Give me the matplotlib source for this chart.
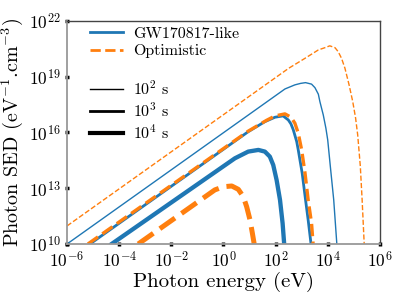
import numpy as np
import matplotlib
matplotlib.use("Agg")
import matplotlib.pyplot as plt
from matplotlib.lines import Line2D

plt.rcParams['font.family'] = 'serif'
plt.rcParams['font.serif'] = ['cmr10']
plt.rcParams['mathtext.fontset'] = 'cm'
plt.rcParams['axes.unicode_minus'] = False
plt.rcParams['axes.formatter.use_mathtext'] = True

# log10(E / eV) and log10(SED)
gw_1e2_logE = [-6.0, 2.36, 2.74, 2.96, 3.15, 3.38, 3.51, 3.64, 3.70, 3.83, 3.93, 4.00, 4.10, 4.23, 4.35]
gw_1e2_logY = [10.0, 18.34, 18.56, 18.64, 18.68, 18.60, 18.41, 18.06, 17.66, 16.94, 16.23, 15.60, 14.18, 12.38, 10.0]
gw_1e3_logE = [-5.12, 0.95, 1.59, 1.98, 2.29, 2.49, 2.59, 2.68, 2.81, 2.87, 3.02, 3.15, 3.25, 3.36]
gw_1e3_logY = [10.0, 16.04, 16.58, 16.82, 16.89, 16.67, 16.46, 16.14, 15.51, 15.06, 13.81, 12.37, 11.29, 10.0]
gw_1e4_logE = [-4.29, 0.44, 0.95, 1.34, 1.59, 1.78, 1.91, 2.04, 2.17, 2.27, 2.33]
gw_1e4_logY = [10.0, 14.61, 14.97, 15.06, 14.97, 14.70, 14.25, 13.44, 12.37, 11.11, 10.0]

opt_1e2_logE = [-6.0, 2.5, 3.13, 3.64, 3.89, 4.08, 4.28, 4.40, 4.53, 4.66, 4.82, 4.96, 5.07, 5.15, 5.25, 5.32, 5.40]
opt_1e2_logY = [10.97, 19.45, 19.99, 20.44, 20.56, 20.66, 20.56, 20.35, 19.99, 19.46, 18.56, 17.66, 16.77, 15.87, 14.20, 12.38, 10.0]
opt_1e3_logE = [-5.2, 0.95, 1.65, 1.98, 2.36, 2.59, 2.74, 2.87, 3.00, 3.13, 3.25, 3.38, 3.44]
opt_1e3_logY = [10.0, 16.07, 16.65, 16.89, 17.0, 16.82, 16.50, 15.96, 15.06, 13.81, 12.37, 11.11, 10.0]
opt_1e4_logE = [-3.27, -0.33, 0.0, 0.32, 0.57, 0.76, 0.89, 1.02, 1.11, 1.18]
opt_1e4_logY = [10.0, 12.91, 13.08, 13.12, 12.94, 12.55, 12.01, 11.29, 10.58, 10.0]

times = ['$10^2$ s', '$10^3$ s', '$10^4$ s']
blue = '#1f77b4'
orange = '#ff7f0e'

fig = plt.figure(figsize=(3.99, 2.99), dpi=100)
ax = fig.add_axes([0.168, 0.184, 0.784, 0.746])

gw = [(gw_1e2_logE, gw_1e2_logY), (gw_1e3_logE, gw_1e3_logY), (gw_1e4_logE, gw_1e4_logY)]
opt = [(opt_1e2_logE, opt_1e2_logY), (opt_1e3_logE, opt_1e3_logY), (opt_1e4_logE, opt_1e4_logY)]
lw_gw = [1.0, 2.0, 3.1]
lw_opt = [1.0, 2.4, 3.6]

for (le, ly), lw in zip(gw, lw_gw):
    ax.plot(10.0 ** np.array(le), 10.0 ** np.array(ly), color=blue, lw=lw)
for (le, ly), lw in zip(opt, lw_opt):
    ax.plot(10.0 ** np.array(le), 10.0 ** np.array(ly), color=orange, lw=lw, ls='--')

ax.set_xscale('log')
ax.set_yscale('log')
ax.set_xlim(1e-6, 1e6)
ax.set_ylim(1e10, 1e22)
ax.set_xticks([10.0 ** k for k in range(-6, 7, 2)])
ax.set_yticks([10.0 ** k for k in range(10, 23, 3)])
ax.minorticks_off()
ax.tick_params(direction='inout', length=3, width=2.5, color='black',
               labelsize=12.5)
ax.tick_params(axis='x', pad=3)
ax.tick_params(axis='y', pad=3)

for s in ['left', 'bottom']:
    ax.spines[s].set_color('#999999')
    ax.spines[s].set_linewidth(1.3)
for s in ['top', 'right']:
    ax.spines[s].set_color('#444444')
    ax.spines[s].set_linewidth(1.0)

ax.set_xlabel('Photon energy (eV)', fontsize=15, labelpad=1)
ax.set_ylabel(r'Photon SED (eV$^{-1}$.cm$^{-3}$)', fontsize=14.5, labelpad=3)

handles = [Line2D([], [], color=blue, lw=2),
           Line2D([], [], color=orange, lw=2, ls='--'),
           Line2D([], [], color='none'),
           Line2D([], [], color='black', lw=1.0),
           Line2D([], [], color='black', lw=2.0),
           Line2D([], [], color='black', lw=3.0)]
labels = ['GW170817-like', 'Optimistic', ''] + times
ax.legend(handles, labels, loc='upper left', frameon=False, fontsize=11.5,
          handlelength=2.1, handletextpad=0.6, labelspacing=0.22,
          borderpad=0, borderaxespad=0, bbox_to_anchor=(0.073, 0.975))

fig.savefig('out.png', dpi=100)
